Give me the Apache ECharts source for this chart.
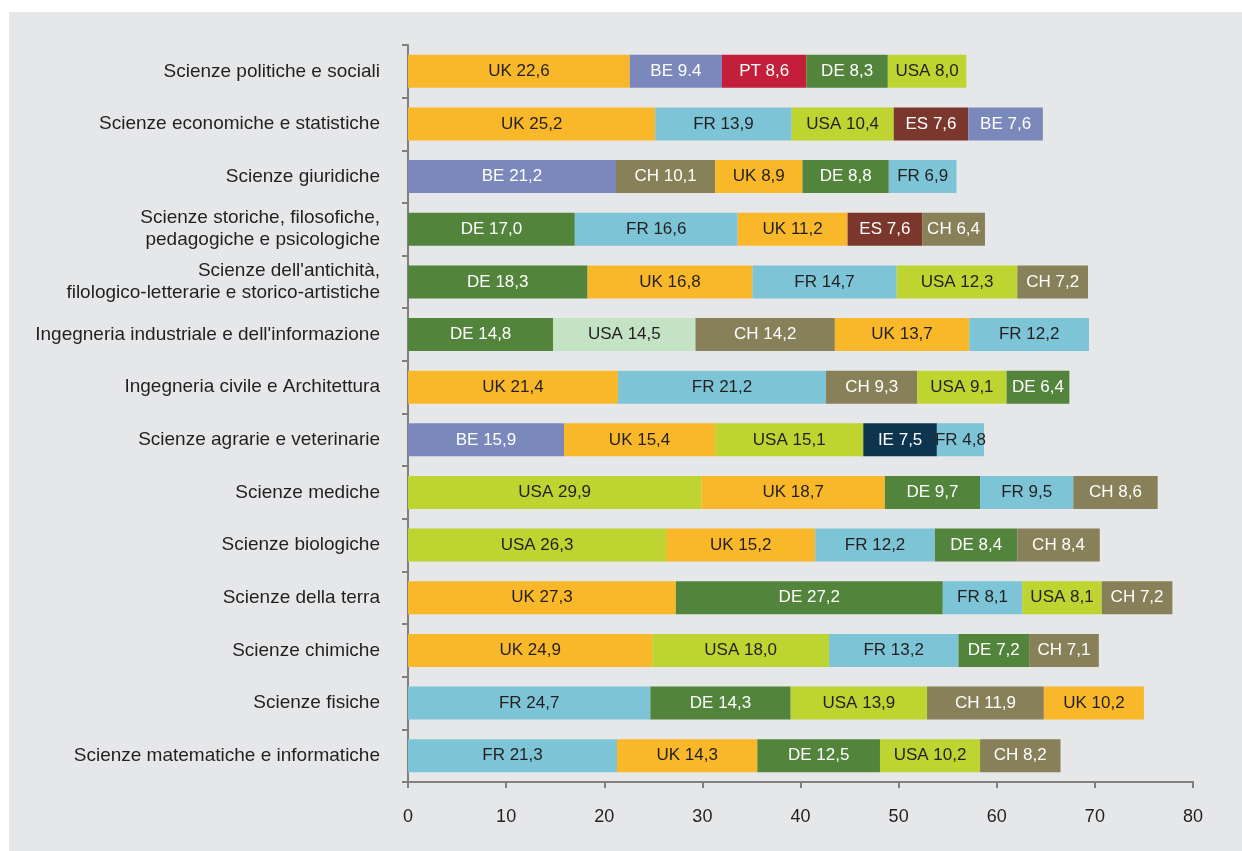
<!DOCTYPE html>
<html>
<head>
<meta charset="utf-8">
<title>Paesi di collaborazione per area disciplinare</title>
<script src="https://cdn.jsdelivr.net/npm/echarts@6/dist/echarts.min.js"></script>
<style>
  html, body { margin: 0; padding: 0; background: #ffffff; }
  #chart { width: 1242px; height: 851px; }
</style>
</head>
<body>
<div id="chart"></div>
<script>
// Disciplinary areas, top to bottom
const categories = [
  'Scienze politiche e sociali',
  'Scienze economiche e statistiche',
  'Scienze giuridiche',
  'Scienze storiche, filosofiche,\npedagogiche e psicologiche',
  "Scienze dell'antichità,\nfilologico-letterarie e storico-artistiche",
  "Ingegneria industriale e dell'informazione",
  'Ingegneria civile e Architettura',
  'Scienze agrarie e veterinarie',
  'Scienze mediche',
  'Scienze biologiche',
  'Scienze della terra',
  'Scienze chimiche',
  'Scienze fisiche',
  'Scienze matematiche e informatiche'
];

// Top five partner countries per area (in bar order)
const countries = [
  ['UK', 'BE', 'PT', 'DE', 'USA'],
  ['UK', 'FR', 'USA', 'ES', 'BE'],
  ['BE', 'CH', 'UK', 'DE', 'FR'],
  ['DE', 'FR', 'UK', 'ES', 'CH'],
  ['DE', 'UK', 'FR', 'USA', 'CH'],
  ['DE', 'USA*', 'CH', 'UK', 'FR'],
  ['UK', 'FR', 'CH', 'USA', 'DE'],
  ['BE', 'UK', 'USA', 'IE', 'FR'],
  ['USA', 'UK', 'DE', 'FR', 'CH'],
  ['USA', 'UK', 'FR', 'DE', 'CH'],
  ['UK', 'DE', 'FR', 'USA', 'CH'],
  ['UK', 'USA', 'FR', 'DE', 'CH'],
  ['FR', 'DE', 'USA', 'CH', 'UK'],
  ['FR', 'UK', 'DE', 'USA', 'CH']
];

// Percentage shares, same order as the countries above
const shares = [
  [22.6, 9.4, 8.6, 8.3, 8.0],
  [25.2, 13.9, 10.4, 7.6, 7.6],
  [21.2, 10.1, 8.9, 8.8, 6.9],
  [17.0, 16.6, 11.2, 7.6, 6.4],
  [18.3, 16.8, 14.7, 12.3, 7.2],
  [14.8, 14.5, 14.2, 13.7, 12.2],
  [21.4, 21.2, 9.3, 9.1, 6.4],
  [15.9, 15.4, 15.1, 7.5, 4.8],
  [29.9, 18.7, 9.7, 9.5, 8.6],
  [26.3, 15.2, 12.2, 8.4, 8.4],
  [27.3, 27.2, 8.1, 8.1, 7.2],
  [24.9, 18.0, 13.2, 7.2, 7.1],
  [24.7, 14.3, 13.9, 11.9, 10.2],
  [21.3, 14.3, 12.5, 10.2, 8.2]
];

// Entries whose value is printed with a decimal point instead of a comma [row, col]
const pointDecimal = [[0, 1]];

const xTicks = { min: 0, max: 80, interval: 10 };

const countryColor = {
  'UK':   '#F9B82A',
  'BE':   '#7B88BC',
  'PT':   '#C31F3A',
  'DE':   '#52843B',
  'USA':  '#BED431',
  'USA*': '#C4E3C4',
  'FR':   '#7DC5D6',
  'ES':   '#7B372B',
  'CH':   '#878058',
  'IE':   '#0E3550'
};
const darkText = { 'UK': 1, 'USA': 1, 'USA*': 1, 'FR': 1 };

const FONT = 'Liberation Sans, Arial, sans-serif';

function fmt(v, r, c) {
  const s = v.toFixed(1);
  const usePoint = pointDecimal.some(p => p[0] === r && p[1] === c);
  return usePoint ? s : s.replace('.', ',');
}

const series = [0, 1, 2, 3, 4].map(c => ({
  type: 'bar',
  name: 'pos' + (c + 1),
  stack: 'total',
  barWidth: 33,
  data: shares.map((row, r) => {
    const code = countries[r][c];
    const shown = code.replace('*', '');
    return {
      value: row[c],
      itemStyle: { color: countryColor[code] },
      label: {
        show: true,
        position: 'inside',
        color: darkText[code] ? '#231F20' : '#FFFFFF',
        fontFamily: FONT,
        fontSize: 17,
        formatter: shown + ' ' + fmt(row[c], r, c)
      }
    };
  })
}));

const chart = echarts.init(document.getElementById('chart'), null, { renderer: 'canvas' });
chart.setOption({
  animation: false,
  backgroundColor: 'transparent',
  graphic: [{
    type: 'rect',
    z: -10,
    silent: true,
    shape: { x: 9, y: 12, width: 1233, height: 839 },
    style: { fill: '#E6E7E9' }
  }],
  grid: { left: 408, right: 49, top: 45, bottom: 69, containLabel: false },
  xAxis: {
    type: 'value',
    min: xTicks.min,
    max: xTicks.max,
    interval: xTicks.interval,
    splitLine: { show: false },
    axisLine: { show: true, lineStyle: { color: '#808080', width: 2 } },
    axisTick: { show: true, length: 6, lineStyle: { color: '#808080', width: 2 } },
    axisLabel: {
      margin: 26,
      color: '#231F20',
      fontSize: 18,
      fontFamily: FONT
    }
  },
  yAxis: {
    type: 'category',
    inverse: true,
    data: categories,
    axisLine: { show: true, lineStyle: { color: '#808080', width: 2 } },
    axisTick: { show: true, length: 6, alignWithLabel: false, lineStyle: { color: '#808080', width: 2 } },
    axisLabel: {
      margin: 28,
      color: '#231F20',
      fontSize: 19,
      lineHeight: 22,
      fontFamily: FONT
    }
  },
  series: series
});
</script>
</body>
</html>
